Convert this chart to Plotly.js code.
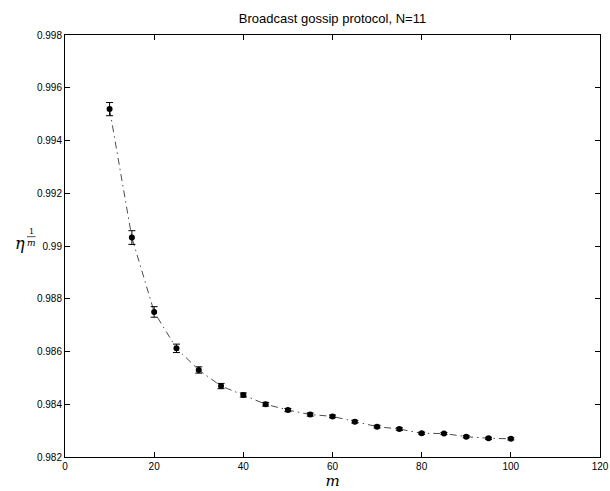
<!DOCTYPE html>
<html>
<head>
<meta charset="utf-8">
<script src="https://cdn.plot.ly/plotly-3.0.1.min.js"></script>
<style>html,body{margin:0;padding:0;background:#fff;}#chart{width:610px;height:491px;}</style>
</head>
<body>
<div id="chart"></div>
<script>
const mValues = [10, 15, 20, 25, 30, 35, 40, 45, 50, 55, 60, 65, 70, 75, 80, 85, 90, 95, 100];
const etaValues = [0.99519, 0.99032, 0.98750, 0.98612, 0.98530, 0.98469, 0.98435, 0.98400, 0.98378, 0.98361,
                   0.98354, 0.98334, 0.98315, 0.98306, 0.98290, 0.98289, 0.98277, 0.98271, 0.98269];
const etaErrors = [0.00025, 0.00026, 0.00020, 0.00016, 0.00012, 0.00010, 0.00008, 0.00007, 0.00006, 0.00006,
                   0.00005, 0.00005, 0.00005, 0.00005, 0.00004, 0.00004, 0.00004, 0.00004, 0.00004];
const yTickVals = [0.982, 0.984, 0.986, 0.988, 0.99, 0.992, 0.994, 0.996, 0.998];
const yTickText = ['0.982', '0.984', '0.986', '0.988', '0.99', '0.992', '0.994', '0.996', '0.998'];
const xTickVals = [0, 20, 40, 60, 80, 100, 120];
const xTickText = ['0', '20', '40', '60', '80', '100', '120'];
const chartTitle = 'Broadcast gossip protocol, N=11';

const trace = {
  x: mValues,
  y: etaValues,
  type: 'scatter',
  mode: 'lines+markers',
  line: {color: '#000', width: 0.7, dash: '7px,4px,1.5px,4px'},
  marker: {color: '#000', size: 6, symbol: 'circle'},
  error_y: {type: 'data', array: etaErrors, visible: true, color: '#000', thickness: 1, width: 3.5},
  hoverinfo: 'x+y'
};

const axisCommon = {
  showgrid: false, zeroline: false, showline: true, linecolor: '#000', linewidth: 1,
  mirror: 'ticks', ticks: 'inside', ticklen: 5, tickcolor: '#000', tickwidth: 1,
  tickfont: {family: 'Liberation Sans, Arial, sans-serif', size: 10, color: '#000'}
};

const layout = {
  width: 610, height: 491,
  margin: {l: 64.5, r: 9.5, t: 34.7, b: 34},
  paper_bgcolor: '#fff', plot_bgcolor: '#fff',
  showlegend: false,
  title: {
    text: chartTitle,
    font: {family: 'Liberation Sans, Arial, sans-serif', size: 13, color: '#000'},
    x: 0.5, xref: 'paper', xanchor: 'center',
    y: 1 - 18 / 491, yref: 'container', yanchor: 'middle'
  },
  xaxis: Object.assign({}, axisCommon, {
    range: [0, 120], tickmode: 'array', tickvals: xTickVals, ticktext: xTickText,
    title: {text: '<i>m</i>', font: {family: 'DejaVu Serif, serif', size: 15, color: '#000'}, standoff: 2}
  }),
  yaxis: Object.assign({}, axisCommon, {
    range: [0.982, 0.998], tickmode: 'array', tickvals: yTickVals, ticktext: yTickText,
    title: {text: ''}
  }),
  annotations: [
    {text: '<i>η</i>', xref: 'paper', yref: 'paper', x: -0.085, y: 0.505, xanchor: 'center', yanchor: 'middle',
     showarrow: false, font: {family: 'DejaVu Serif, serif', size: 16, color: '#000'}},
    {text: '1', xref: 'paper', yref: 'paper', x: -0.063, y: 0.535, xanchor: 'center', yanchor: 'middle',
     showarrow: false, font: {family: 'DejaVu Serif, serif', size: 8, color: '#000'}},
    {text: '<i>m</i>', xref: 'paper', yref: 'paper', x: -0.063, y: 0.508, xanchor: 'center', yanchor: 'middle',
     showarrow: false, font: {family: 'DejaVu Serif, serif', size: 9, color: '#000'}}
  ],
  shapes: [
    {type: 'line', xref: 'paper', yref: 'paper', x0: -0.071, x1: -0.055, y0: 0.522, y1: 0.522,
     line: {color: '#000', width: 0.7}}
  ]
};

Plotly.newPlot('chart', [trace], layout, {staticPlot: true, displayModeBar: false});
</script>
</body>
</html>
